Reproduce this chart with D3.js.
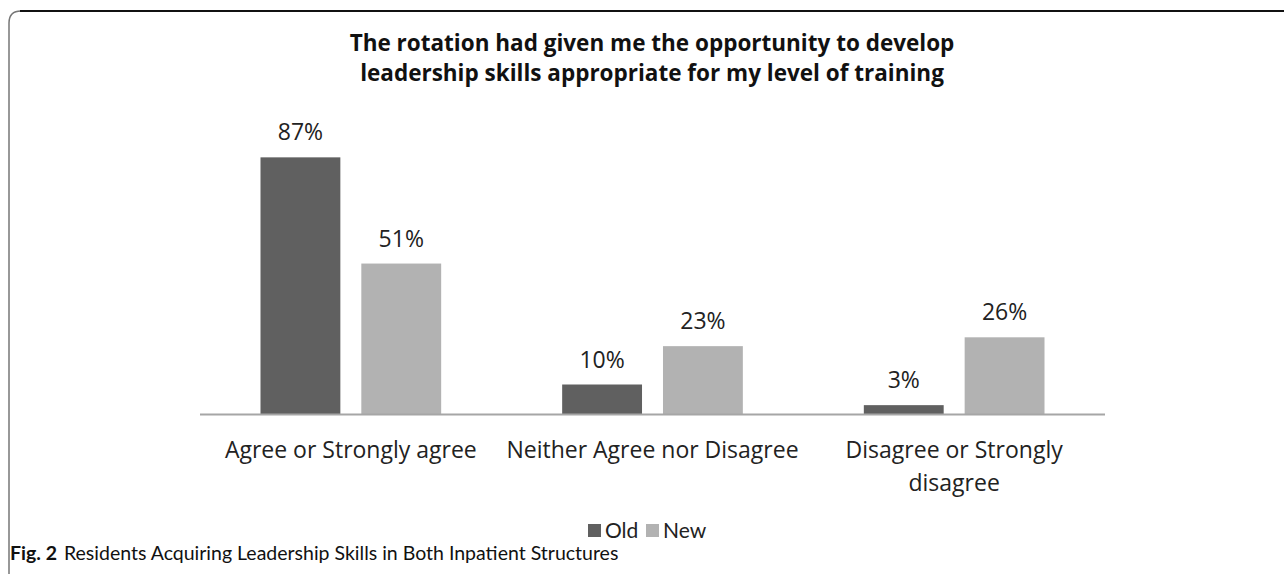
<!DOCTYPE html>
<html>
<head>
<meta charset="utf-8">
<script src="https://cdn.jsdelivr.net/npm/d3@7"></script>
<style>
  body { margin: 0; background: #fff; }
  svg { display: block; }
</style>
</head>
<body>
<div id="chart"></div>
<script>
const TITLE_LINES = [
  "The rotation had given me the opportunity to develop",
  "leadership skills appropriate  for my level of training"
];
const CATEGORIES = [
  ["Agree or Strongly agree"],
  ["Neither Agree nor Disagree"],
  ["Disagree or Strongly", "disagree"]
];
const SERIES = ["Old", "New"];
const OLD_VALUES = [87, 10, 3];
const NEW_VALUES = [51, 23, 26];
const COLORS = { Old: "#606060", New: "#b2b2b2" };

const W = 1284, H = 574;
const baseY = 414;

const svg = d3.select("#chart").append("svg")
  .attr("width", W).attr("height", H);

// figure frame (rounded top-left corner)
svg.append("path")
  .attr("d", `M9,${H} L9,23 Q9,11 21,11`)
  .attr("fill", "none").attr("stroke", "#777").attr("stroke-width", 1.5);
svg.append("line")
  .attr("x1", 20).attr("x2", W).attr("y1", 11).attr("y2", 11)
  .attr("stroke", "#111").attr("stroke-width", 2);

// title
svg.append("g").selectAll("text")
  .data(TITLE_LINES)
  .enter().append("text")
    .attr("x", 652)
    .attr("y", (d, i) => 51 + i * 30)
    .attr("text-anchor", "middle")
    .style("font-family", "'Open Sans', sans-serif")
    .style("font-weight", "700")
    .style("font-size", "22.5px")
    .style("fill", "#111")
    .text(d => d);

const data = CATEGORIES.map((c, i) => ({
  key: c.join(" "),
  lines: c,
  values: [{ s: "Old", v: OLD_VALUES[i] }, { s: "New", v: NEW_VALUES[i] }]
}));

const x0 = d3.scaleBand()
  .domain(data.map(d => d.key))
  .range([200, 1105]);

const x1 = d3.scaleBand()
  .domain(SERIES)
  .range([0, x0.bandwidth()])
  .paddingInner(0.208)
  .paddingOuter(0.6);

const y = d3.scaleLinear()
  .domain([0, 100])
  .range([baseY, baseY - 295]);

const groups = svg.append("g").selectAll("g")
  .data(data)
  .enter().append("g")
    .attr("transform", d => `translate(${x0(d.key)},0)`);

groups.selectAll("rect")
  .data(d => d.values)
  .enter().append("rect")
    .attr("x", d => x1(d.s))
    .attr("y", d => y(d.v))
    .attr("width", x1.bandwidth())
    .attr("height", d => y(0) - y(d.v))
    .attr("fill", d => COLORS[d.s]);

groups.selectAll("text.val")
  .data(d => d.values)
  .enter().append("text")
    .attr("class", "val")
    .attr("x", d => x1(d.s) + x1.bandwidth() / 2)
    .attr("y", d => y(d.v) - 17)
    .attr("text-anchor", "middle")
    .style("font-family", "'Open Sans', sans-serif")
    .style("font-size", "23px")
    .style("fill", "#222")
    .text(d => d.v + "%");

// axis line
svg.append("line")
  .attr("x1", x0.range()[0]).attr("x2", x0.range()[1])
  .attr("y1", y(0) + 0.5).attr("y2", y(0) + 0.5)
  .attr("stroke", "#a6a6a6").attr("stroke-width", 2);

// category labels
groups.each(function (d) {
  d3.select(this).selectAll("text.cat")
    .data(d.lines)
    .enter().append("text")
      .attr("class", "cat")
      .attr("x", x0.bandwidth() / 2)
      .attr("y", (t, i) => 458 + i * 33)
      .attr("text-anchor", "middle")
      .style("font-family", "'Open Sans', sans-serif")
      .style("font-size", "23px")
      .style("fill", "#222")
      .text(t => t);
});

// legend
const legend = svg.append("g").attr("transform", "translate(588,0)");
const legendItems = [{ s: "Old", x: 0 }, { s: "New", x: 58 }];
legendItems.forEach(it => {
  legend.append("rect")
    .attr("x", it.x).attr("y", 524)
    .attr("width", 13).attr("height", 13)
    .attr("fill", COLORS[it.s]);
  legend.append("text")
    .attr("x", it.x + 17).attr("y", 538)
    .style("font-family", "Lato, 'Open Sans', sans-serif")
    .style("font-size", "21px")
    .style("fill", "#222")
    .text(it.s);
});

// caption
const cap = svg.append("text")
  .attr("x", 10).attr("y", 560)
  .style("font-family", "Lato, 'Open Sans', sans-serif")
  .style("font-size", "19.5px")
  .style("fill", "#111");
cap.append("tspan").style("font-weight", "700").text("Fig. 2");
cap.append("tspan").attr("dx", 7).text("Residents Acquiring Leadership Skills in Both Inpatient Structures");
</script>
</body>
</html>
